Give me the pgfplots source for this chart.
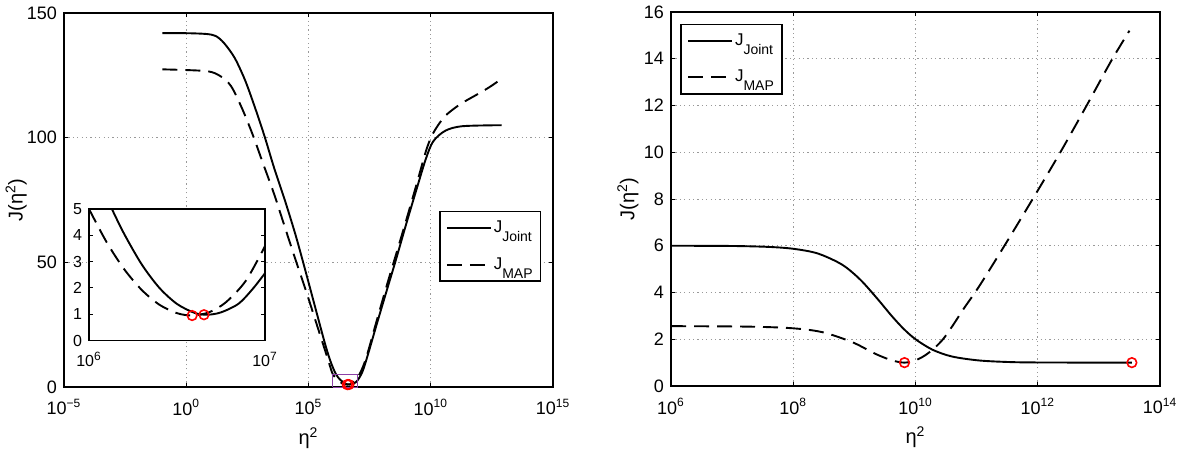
\documentclass[border=0pt]{standalone}
\usepackage{pgfplots}
\pgfplotsset{compat=1.18}
\usepackage{fontspec}
\setmainfont{Liberation Sans}
\definecolor{boxpurple}{rgb}{0.55,0.25,0.65}
\newcommand{\sub}[1]{\raisebox{-4.5pt}{\fontsize{7}{8}\selectfont #1}}
\pgfplotsset{
  mlab/.style={
    scale only axis,
    tick align=inside,
    major tick length=2pt,
    minor tick length=0pt,
    axis line style={line width=0.8pt},
    every tick/.style={black, line width=0.4pt},
    grid=major,
    major grid style={gray!80, line width=0.4pt, dash pattern=on 0.6pt off 1.6pt},
    /pgf/number format/assume math mode=true,
    tick label style={font=\fontsize{9}{10.8}\selectfont},
    label style={font=\fontsize{10}{12}\selectfont},
    xticklabel style={yshift=-2.5pt},
    xlabel style={at={(axis description cs:0.5,0)}, anchor=north, yshift=-20pt, inner sep=0pt},
    ylabel style={anchor=center},
    legend cell align=left,
    legend image code/.code={\draw[##1] (0pt,0pt) -- (22pt,0pt);},
    legend style={draw=black, line width=0.8pt, fill=white, font=\fontsize{8.5}{10}\selectfont, inner xsep=3pt, inner ysep=3.5pt, row sep=9pt, nodes={inner sep=1pt}},
  },
  jline/.style={black, line width=0.95pt, smooth, tension=0.5},
  mline/.style={black, line width=0.95pt, smooth, tension=0.5, dash pattern=on 7.5pt off 4pt},
  redc/.style={only marks, mark=o, red, mark size=2.4pt, mark options={line width=0.8pt, solid}},
}
\begin{document}
\begin{tikzpicture}
\useasboundingbox (0,0) rectangle (592pt,230.5pt);
% ---------------- left main axis
\begin{axis}[xmode=log, log basis x=10, mlab, at={(32pt,37pt)}, anchor=south west, width=244.5pt, height=187pt,
  xmin=1e-5, xmax=1e15, ymin=0, ymax=150,
  xtick={1e-5,1,1e5,1e10,1e15},
  xticklabels={10\textsuperscript{−5},10\textsuperscript{0},10\textsuperscript{5},10\textsuperscript{10},10\textsuperscript{15}},
  ytick={0,50,100,150},
  xlabel={η\textsuperscript{2}}, ylabel={J(η\textsuperscript{2})},
  ylabel style={at={(axis description cs:-0.098,0.5)}},
  legend style={at={(axis description cs:0.767,0.471)}, anchor=north west},
]
\addplot[jline] coordinates {
(0.105,141.9) (1,141.9) (6.31,141.6) (15.85,140.8) (34.7,138) (95.5,132) (263,122.7)
(724,110.7) (1660,100) (3890,88) (1.072e4,75) (2.951e4,61) (7.079e4,47.5) (1.995e5,31)
(5.012e5,16.5) (8.511e5,9.5) (1.349e6,5.0) (1.995e6,2.89) (3.162e6,1.39) (4.699e6,0.98)
(7.079e6,1.4) (1e7,2.56) (1.585e7,6) (2.512e7,12) (6.761e7,26.5) (1.862e8,41)
(3.631e8,50.5) (1e9,65.5) (2.754e9,80) (6.310e9,91.5) (1.259e10,98.5) (3.981e10,102.8)
(1.995e11,104.6) (7.943e12,105)};
\addlegendentry{J\sub{Joint}}
\addplot[mline] coordinates {
(0.105,127.4) (6.457,126.7) (24.55,124.7) (67.61,120.7) (186.2,112) (512.9,101.4)
(1413,89.4) (3890,77.5) (1.072e4,64.2) (2.951e4,51) (7.943e4,38.5) (2.188e5,25)
(5.012e5,14) (7.079e5,9.3) (1e6,5.0) (1.585e6,2.71) (2.512e6,1.36) (3.855e6,0.95)
(6.026e6,1.45) (1e7,3.59) (1.585e7,7.5) (2.512e7,13) (6.761e7,28) (1.862e8,43)
(3.631e8,52.5) (1e9,67) (2.754e9,82) (6.310e9,94.5) (1.072e10,100.5) (1.995e10,105)
(3.981e10,108.8) (1e11,112) (2.239e11,114.3) (1.175e12,118.3) (3.162e12,120.9) (8.318e12,123.8)};
\addlegendentry{J\sub{MAP}}
\addplot[boxpurple, line width=0.5pt, forget plot] coordinates {(1e6,0) (1e7,0) (1e7,5) (1e6,5) (1e6,0)};
\addplot[redc, forget plot] coordinates {(3.855e6,0.95) (4.5e6,0.98)};
\end{axis}
% ---------------- inset
\begin{axis}[xmode=log, log basis x=10, mlab, at={(44.5pt,60.25pt)}, anchor=south west, width=88pt, height=65.75pt,
  xmin=1e6, xmax=1e7, ymin=0, ymax=5, grid=none,
  xtick={1e6,1e7}, xticklabels={10\textsuperscript{6},10\textsuperscript{7}},
  ytick={0,1,2,3,4,5},
  axis background/.style={fill=white},
  tick label style={font=\fontsize{8}{9.6}\selectfont},
]
\addplot[jline] coordinates {
(1.349e6,5.0) (1.585e6,4.05) (1.995e6,2.89) (2.512e6,2.0) (3.162e6,1.39) (3.981e6,1.05)
(4.699e6,0.98) (5.623e6,1.07) (7.079e6,1.40) (8.511e6,1.96) (1e7,2.56)};
\addplot[mline] coordinates {
(1e6,5.0) (1.259e6,3.74) (1.585e6,2.71) (1.995e6,1.92) (2.512e6,1.36) (3.162e6,1.04)
(3.855e6,0.95) (4.797e6,1.07) (5.984e6,1.45) (7.780e6,2.27) (1e7,3.59)};
\addplot[redc] coordinates {(3.855e6,0.95) (4.5e6,0.98)};
\end{axis}
% ---------------- right axis
\begin{axis}[xmode=log, log basis x=10, mlab, at={(335.5pt,37.5pt)}, anchor=south west, width=244.5pt, height=187pt,
  xmin=1e6, xmax=1e14, ymin=0, ymax=16,
  xtick={1e6,1e8,1e10,1e12,1e14},
  xticklabels={10\textsuperscript{6},10\textsuperscript{8},10\textsuperscript{10},10\textsuperscript{12},10\textsuperscript{14}},
  ytick={0,2,4,6,8,10,12,14,16},
  xlabel={η\textsuperscript{2}}, ylabel={J(η\textsuperscript{2})},
  ylabel style={at={(axis description cs:-0.088,0.5)}},
  legend style={at={(axis description cs:0.019,0.969)}, anchor=north west},
]
\addplot[jline] coordinates {
(1e6,6.0) (1e7,5.99) (3.981e7,5.95) (1e8,5.87) (2.512e8,5.67) (6.310e8,5.19)
(1.259e9,4.54) (2.455e9,3.69) (3.981e9,3.03) (6.310e9,2.46) (1e10,2.0) (1.905e10,1.55)
(3.981e10,1.26) (1.122e11,1.09) (3.981e11,1.02) (1.585e12,1.005) (3.467e13,1.0)};
\addlegendentry{J\sub{Joint}}
\addplot[mline] coordinates {
(1e6,2.56) (1.820e7,2.54) (9.772e7,2.47) (3.020e8,2.3) (9.333e8,1.87) (2.188e9,1.38)
(4.074e9,1.1) (6.607e9,1.0) (1e10,1.1) (1.413e10,1.3) (1.995e10,1.6) (2.818e10,2.0)
(3.981e10,2.55) (6.310e10,3.35) (1.122e11,4.3) (3.090e11,6.15) (8.710e11,8.1)
(2.344e12,10.0) (6.310e12,12.0) (1.585e13,13.9) (3.162e13,15.2)};
\addlegendentry{J\sub{MAP}}
\addplot[redc, forget plot] coordinates {(6.607e9,1.0) (3.467e13,1.0)};
\end{axis}
\end{tikzpicture}
\end{document}
